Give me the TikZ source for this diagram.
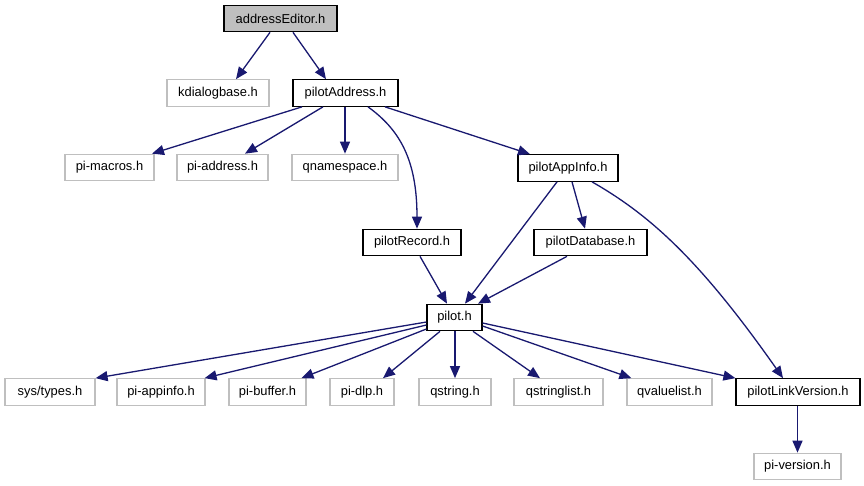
\documentclass[tikz,border=0pt]{standalone}
\usepackage{fontspec}
\setmainfont{Liberation Sans}
\usetikzlibrary{arrows.meta}
\definecolor{edgeblue}{HTML}{191970}
\definecolor{lgray}{HTML}{BFBFBF}
\tikzset{
  base/.style={rectangle, inner sep=0pt, minimum height=26.5pt, font=\fontsize{12.9}{15}\selectfont, text=black, line width=1.2pt},
  known/.style={base, draw=black},
  ext/.style={base, draw=lgray},
  root/.style={base, draw=black, fill=lgray},
  dep/.style={draw=edgeblue, line width=1.3pt, -{Triangle[length=12pt,width=10pt]}},
}
\begin{document}
\begin{tikzpicture}[x=1pt,y=-1pt]
\useasboundingbox (0,0) rectangle (864,485);
\fill[white] (0,0) rectangle (864,485);
% nodes
\node[root, minimum width=113pt] (aE) at (280.5,18.5) {addressEditor.h};
\node[ext, minimum width=102pt] (kd) at (218,93) {kdialogbase.h};
\node[known, minimum width=105pt] (pA) at (345.5,93) {pilotAddress.h};
\node[ext, minimum width=89pt] (pm) at (109.5,167.5) {pi-macros.h};
\node[ext, minimum width=91pt] (pad) at (222.5,167.5) {pi-address.h};
\node[ext, minimum width=106pt] (qn) at (345,167.5) {qnamespace.h};
\node[known, minimum width=100pt] (pAI) at (568,168) {pilotAppInfo.h};
\node[known, minimum width=98pt] (pR) at (412,242.5) {pilotRecord.h};
\node[known, minimum width=113pt] (pDB) at (590.5,242.5) {pilotDatabase.h};
\node[known, minimum width=55pt] (pl) at (454.5,317.5) {pilot.h};
\node[ext, minimum width=90pt] (st) at (50,392) {sys/types.h};
\node[ext, minimum width=88pt] (pai) at (161,392) {pi-appinfo.h};
\node[ext, minimum width=77pt] (pb) at (267.5,392) {pi-buffer.h};
\node[ext, minimum width=64pt] (pd) at (362,392) {pi-dlp.h};
\node[ext, minimum width=72pt] (qs) at (455,392) {qstring.h};
\node[ext, minimum width=89pt] (qsl) at (558.5,392) {qstringlist.h};
\node[ext, minimum width=85pt] (qvl) at (669.5,392) {qvaluelist.h};
\node[known, minimum width=124pt] (pLV) at (798,392) {pilotLinkVersion.h};
\node[ext, minimum width=87pt] (pv) at (797.5,466.5) {pi-version.h};
% edges
\draw[dep] ([xshift=-10.5pt]aE.south) -- ([xshift=18pt]kd.north);
\draw[dep] ([xshift=12.5pt]aE.south) -- ([xshift=-19.5pt]pA.north);
\draw[dep] ([xshift=-43.5pt]pA.south) -- ([xshift=42.5pt]pm.north);
\draw[dep] ([xshift=-22.5pt]pA.south) -- ([xshift=22.5pt]pad.north);
\draw[dep] (pA.south -| qn.north) -- (qn.north);
\draw[dep] ([xshift=22.5pt]pA.south) .. controls (400,130) and (417,160) .. ([xshift=5pt]pR.north);
\draw[dep] ([xshift=39.5pt]pA.south) -- ([xshift=-38pt]pAI.north);
\draw[dep] ([xshift=-11pt]pAI.south) -- ([xshift=10.5pt]pl.north);
\draw[dep] ([xshift=4pt]pAI.south) -- ([xshift=-5.5pt]pDB.north);
\draw[dep] ([xshift=24pt]pAI.south) .. controls (650,215) and (700,260) .. ([xshift=-15pt]pLV.north);
\draw[dep] ([xshift=8pt]pR.south) -- ([xshift=-7.5pt]pl.north);
\draw[dep] ([xshift=-23.5pt]pDB.south) -- ([xshift=23.5pt]pl.north);
\draw[dep] ([yshift=-4.5pt]pl.west) -- (st.north east);
\draw[dep] ([yshift=-7.5pt]pl.west) -- ([xshift=-1pt]pai.north east);
\draw[dep] ([yshift=-11.5pt]pl.west) -- ([xshift=34pt]pb.north);
\draw[dep] ([xshift=-14.5pt]pl.south) -- ([xshift=21pt]pd.north);
\draw[dep] (pl.south -| qs.north) -- (qs.north);
\draw[dep] ([xshift=18.5pt]pl.south) -- ([xshift=-18.5pt]qsl.north);
\draw[dep] ([yshift=-8.5pt]pl.east) -- ([xshift=5pt]qvl.north west);
\draw[dep] ([yshift=-5.5pt]pl.east) -- (pLV.north west);
\draw[dep] (pLV.south -| pv.north) -- (pv.north);
\end{tikzpicture}
\end{document}
